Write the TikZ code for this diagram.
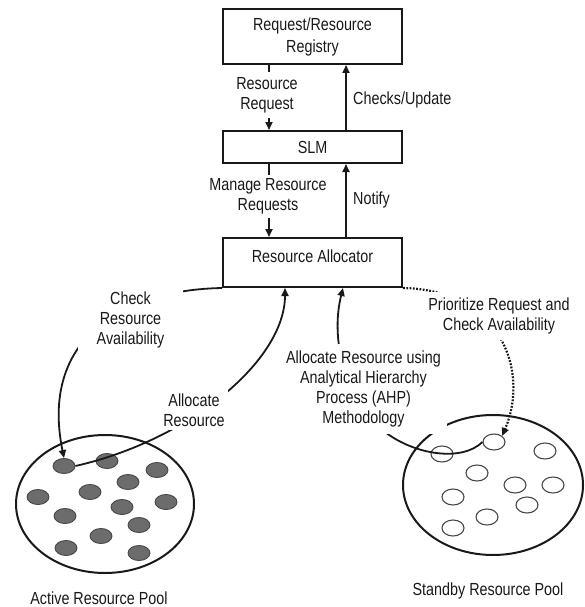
\documentclass[tikz,border=0pt]{standalone}
\usepackage{fontspec}
\setmainfont{Liberation Sans}[FakeStretch=0.82]
\usetikzlibrary{arrows.meta,shapes.geometric}
\definecolor{ink}{RGB}{25,25,25}
\definecolor{dotfill}{RGB}{108,108,108}
\newcommand{\lblsize}{\fontsize{17.5}{20}\selectfont}

\begin{document}
\begin{tikzpicture}[x=1pt,y=-1pt,
  every node/.style={text=ink, font=\lblsize},
  box/.style={draw=ink, line width=2pt, minimum width=179pt, inner sep=0pt, align=center},
  txt/.style={inner sep=0pt, align=center},
  tag/.style={fill=white, inner sep=0pt, align=center},
  flow/.style={draw=ink, line width=1.8pt, -{Triangle[length=8pt,width=7pt]}},
  dotflow/.style={flow, line width=2.2pt, dash pattern=on 1.8pt off 1.5pt},
  pool/.style={ellipse, draw=ink, line width=2pt, inner sep=0pt},
  busy/.style={ellipse, draw=ink!80, fill=dotfill, line width=0.9pt,
               minimum width=22pt, minimum height=15pt, inner sep=0pt},
  idle/.style={ellipse, draw=ink!80, fill=white, line width=1.1pt,
               minimum width=22pt, minimum height=16pt, inner sep=0pt}
]
\useasboundingbox (0,0) rectangle (584,607);

% the three management blocks
\node[box, minimum height=55pt] (reg) at (312.5,36.5) {Request/Resource\\[2pt]Registry};
\node[box, minimum height=32pt] (slm) at (312.5,147) {SLM};
\node[box, minimum height=49pt] (alloc) at (312.5,262.5) {};
\node[txt] (allocname) at (312.5,256) {Resource Allocator};

% vertical message lanes
\coordinate (down) at (269,0);
\coordinate (up) at (346,0);
\draw[flow] (reg.south -| down) -- (slm.north -| down);
\node[tag, minimum width=70pt, minimum height=46pt] (rreq) at (267,95) {Resource\\Request};
\draw[flow] (slm.north -| up) -- (reg.south -| up);
\node[txt, anchor=west] (chk) at (353,100) {Checks/Update};
\draw[flow] (slm.south -| down) -- (alloc.north -| down);
\node[tag, minimum height=43pt] (mreq) at (268,196.5) {Manage Resource\\Requests};
\draw[flow] (alloc.north -| up) -- (slm.south -| up);
\node[txt, anchor=west] (ntf) at (353,200) {Notify};

% resource pools
\node[pool, minimum width=178pt, minimum height=138pt] (active) at (105,504) {};
\node[pool, minimum width=180pt, minimum height=140pt] (standby) at (493,485) {};

\foreach \n/\x/\y in {1/64/466, 2/107/461, 3/157/470, 4/128/482, 5/38/497,
    6/90/492, 7/166/502, 8/122/507, 9/65/516, 10/139/525, 11/101/536,
    12/66/548, 13/139/553}
  \node[busy] (a\n) at (\x,\y) {};

\foreach \n/\x/\y in {1/442/454, 2/494/442, 3/545/451, 4/477/473, 5/515/485,
    6/553/485, 7/453/497, 8/527/505, 9/487/517, 10/453/528}
  \node[idle] (s\n) at (\x,\y) {};

% allocator <-> pool links
\coordinate (tipA) at (285,288);
\coordinate (tipB) at (343,288);
\draw[flow] (alloc.south west) .. controls (120,290) and (40,340) .. (a1.north);
\draw[flow] (a1.east) .. controls (190,440) and (285,360) .. (tipA);
\draw[flow] (s2.west) .. controls (462,462) and (415,455) .. (385,432)
            .. controls (345,400) and (330,340) .. (tipB);
\draw[dotflow] (alloc.south east) .. controls (500,290) and (530,370) .. (s2.north east);

% link labels
\node[tag, minimum width=105pt, minimum height=62pt] (chkav) at (130.5,320) {Check\\Resource\\Availability};
\node[tag, minimum width=68pt, minimum height=40pt] (alres) at (194,410) {Allocate\\Resource};
\node[tag, minimum width=167pt, minimum height=90pt] (ahp) at (363.5,389)
  {Allocate Resource using\\Analytical Hierarchy\\Process (AHP)\\Methodology};
\node[tag, minimum width=148pt, minimum height=48pt] (prio) at (499,316)
  {Prioritize Request and\\Check Availability};

% pool names
\node[txt] (actname) at (99,598) {Active Resource Pool};
\node[txt] (stbname) at (488,591) {Standby Resource Pool};
\end{tikzpicture}
\end{document}
